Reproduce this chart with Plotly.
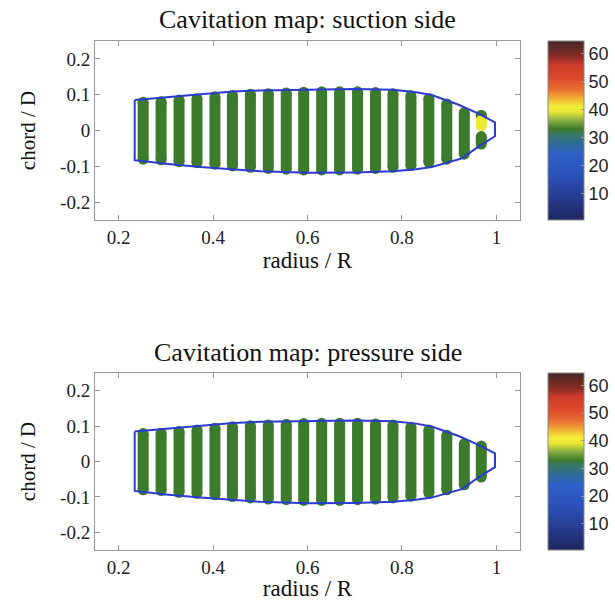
import plotly.graph_objects as go
from plotly.colors import sample_colorscale

# ---------------- data ----------------
# blade outline (radius / R, chord / D), closed contour
outline_r = [0.234, 0.300, 0.373, 0.442, 0.500, 0.583, 0.650, 0.700, 0.781, 0.830, 0.863,
             0.920, 0.962, 0.997, 0.997, 0.962, 0.927, 0.863, 0.830, 0.781, 0.700, 0.600,
             0.500, 0.442, 0.373, 0.300, 0.234, 0.234]
outline_c = [0.085, 0.092, 0.101, 0.109, 0.112, 0.114, 0.116, 0.116, 0.114, 0.107, 0.099,
             0.072, 0.047, 0.023, -0.016, -0.045, -0.078, -0.102, -0.108, -0.114, -0.117, -0.118,
             -0.114, -0.109, -0.102, -0.093, -0.083, 0.085]

# chordwise panel columns: radius, first and last panel position, cavitation value
col_r = [0.252, 0.290, 0.328, 0.366, 0.404, 0.441, 0.479, 0.517, 0.555, 0.592,
         0.630, 0.668, 0.706, 0.744, 0.781, 0.819, 0.857, 0.895, 0.932]
col_top = [0.079, 0.080, 0.085, 0.089, 0.094, 0.098, 0.101, 0.103, 0.105, 0.107,
           0.108, 0.108, 0.108, 0.106, 0.103, 0.097, 0.089, 0.074, 0.050]
col_bot = [-0.080, -0.082, -0.087, -0.090, -0.094, -0.099, -0.103, -0.106, -0.108, -0.110,
           -0.110, -0.110, -0.108, -0.106, -0.103, -0.098, -0.089, -0.080, -0.066]
col_val = [33] * 19

# tip column segments
suction_tip_r = [0.968, 0.968, 0.968]
suction_tip_top = [0.042, 0.028, -0.017]
suction_tip_bot = [0.042, 0.014, -0.038]
suction_tip_val = [33, 40, 33]

pressure_tip_r = [0.968]
pressure_tip_top = [0.044]
pressure_tip_bot = [-0.044]
pressure_tip_val = [33]

titles = ["Cavitation map: suction side", "Cavitation map: pressure side"]
x_ticks = [0.2, 0.4, 0.6, 0.8, 1.0]
x_ticktext = ["0.2", "0.4", "0.6", "0.8", "1"]
y_ticks = [-0.2, -0.1, 0.0, 0.1, 0.2]
y_ticktext = ["-0.2", "-0.1", "0", "0.1", "0.2"]
cb_ticks = [10, 20, 30, 40, 50, 60]

# ---------------- style ----------------
W, H = 615, 601
CMIN, CMAX = 0.5, 64.5
CS = [
    [0.000, "#1e2660"], [0.117, "#263a8c"], [0.242, "#2a50b8"], [0.367, "#2e60c8"],
    [0.430, "#2f6c94"], [0.477, "#3a7868"], [0.508, "#3c7a2c"], [0.555, "#86ae42"],
    [0.602, "#e6e636"], [0.633, "#f2ee34"], [0.680, "#f2b034"], [0.727, "#ea7032"],
    [0.789, "#dc4a2c"], [0.867, "#cc3a2a"], [0.914, "#862c24"], [1.000, "#442828"],
]
SERIF = "Liberation Serif"
SANS = "Liberation Sans"
MS = 11


def py(p):
    return 1 - p / H


panels = [
    dict(ax="", top=41, bottom=220, title_y=20,
         r=col_r + suction_tip_r, t=col_top + suction_tip_top,
         b=col_bot + suction_tip_bot, v=col_val + suction_tip_val, title=titles[0]),
    dict(ax="2", top=373, bottom=550, title_y=352,
         r=col_r + pressure_tip_r, t=col_top + pressure_tip_top,
         b=col_bot + pressure_tip_bot, v=col_val + pressure_tip_val, title=titles[1]),
]

fig = go.Figure()
annotations = []
for p in panels:
    xa = "x" + p["ax"]
    ya = "y" + p["ax"]
    groups = []
    for val in p["v"]:
        if val not in groups:
            groups.append(val)
    groups.sort(key=lambda g: (g != 33, g))
    first = True
    for g in groups:
        xs, ys = [], []
        for r, t, b, v in zip(p["r"], p["t"], p["b"], p["v"]):
            if v != g:
                continue
            xs += [r, r, None]
            ys += [t, b, None]
        col = sample_colorscale(CS, [(g - CMIN) / (CMAX - CMIN)])[0]
        fig.add_trace(go.Scatter(
            x=xs, y=ys, mode="lines+markers", xaxis=xa, yaxis=ya,
            line=dict(color=col, width=MS),
            marker=dict(size=MS, color=[g] * len(xs), colorscale=CS, cmin=CMIN, cmax=CMAX,
                        line=dict(width=0), showscale=first,
                        colorbar=dict(
                            x=548 / W, xanchor="left", xref="paper", xpad=0, ypad=0,
                            y=py(p["top"]), yanchor="top", yref="paper",
                            len=p["bottom"] - p["top"], lenmode="pixels",
                            thickness=36, thicknessmode="pixels",
                            outlinewidth=1, outlinecolor="#888",
                            tickvals=cb_ticks, ticks="inside", ticklen=3, tickcolor="#999",
                            tickfont=dict(family=SANS, size=18, color="#222"),
                        )),
            hoverinfo="skip", showlegend=False,
        ))
        first = False
    fig.add_trace(go.Scatter(
        x=outline_r, y=outline_c, mode="lines", xaxis=xa, yaxis=ya,
        line=dict(color="#2b3bd0", width=2), hoverinfo="skip", showlegend=False,
    ))
    annotations.append(dict(
        text=p["title"], x=(95 + 520) / 2 / W, y=py(p["title_y"]), xref="paper", yref="paper",
        xanchor="center", yanchor="middle", showarrow=False,
        font=dict(family=SERIF, size=26, color="#111"),
    ))

axis_common = dict(showline=True, linecolor="#999", linewidth=1, mirror="ticks",
                   ticks="inside", ticklen=5, tickcolor="#999", showgrid=False,
                   zeroline=False, tickfont=dict(family=SERIF, size=19, color="#222"))

layout = dict(
    width=W, height=H, margin=dict(l=0, r=0, t=0, b=0),
    paper_bgcolor="white", plot_bgcolor="white", annotations=annotations,
)
for p in panels:
    dom_y = [py(p["bottom"]), py(p["top"])]
    layout["xaxis" + p["ax"]] = dict(
        axis_common, domain=[95 / W, 520 / W], range=[0.15, 1.05],
        tickvals=x_ticks, ticktext=x_ticktext, anchor="y" + p["ax"],
        title=dict(text="radius / R", standoff=4, font=dict(family=SERIF, size=23, color="#111")),
    )
    layout["yaxis" + p["ax"]] = dict(
        axis_common, domain=dom_y, range=[-0.25, 0.25],
        tickvals=y_ticks, ticktext=y_ticktext, anchor="x" + p["ax"],
        title=dict(text="chord / D", standoff=18, font=dict(family=SERIF, size=21, color="#111")),
    )
fig.update_layout(**layout)
fig.write_html("out.html")
